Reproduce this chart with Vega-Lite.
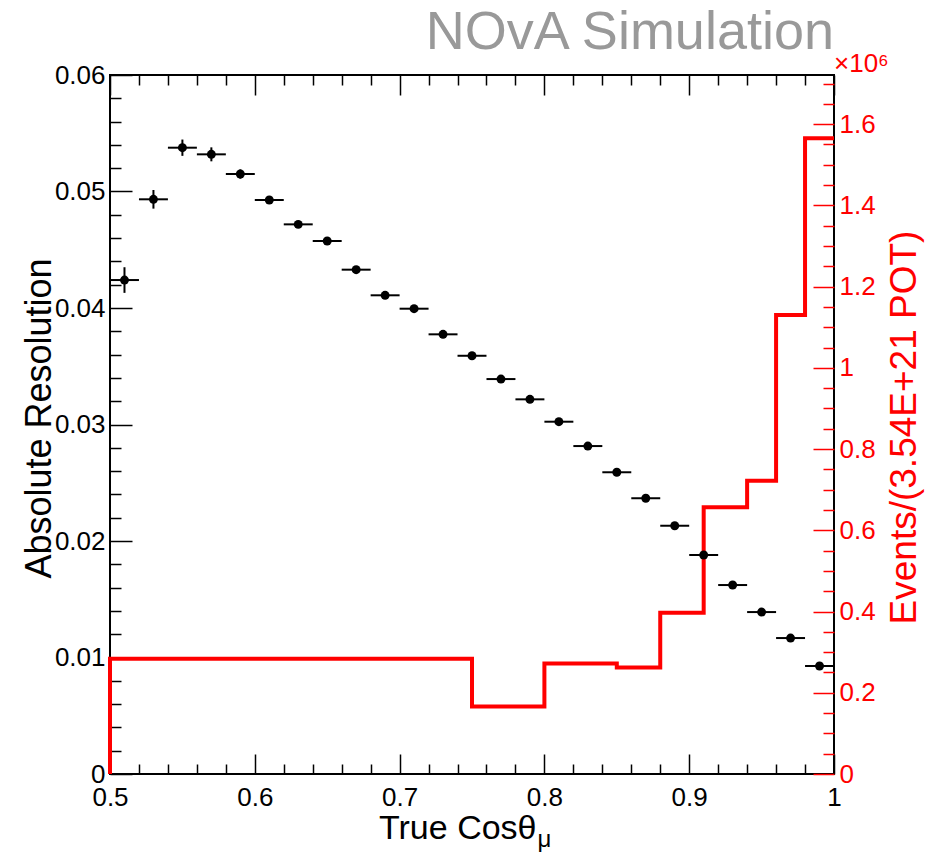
{
  "$schema": "https://vega.github.io/schema/vega-lite/v6.json",
  "width": 724,
  "height": 699,
  "autosize": "none",
  "padding": {"left": 110, "top": 75, "right": 98, "bottom": 82},
  "background": "white",
  "config": {
    "view": {"stroke": "black", "strokeWidth": 2},
    "font": "Liberation Sans",
    "axis": {"labelFont": "Liberation Sans", "titleFont": "Liberation Sans", "titleFontWeight": "normal", "grid": false, "domain": false, "zindex": 1, "labelFlush": false, "labelOverlap": false, "labelBound": false}
  },
  "title": {"text": "NOvA Simulation", "anchor": "end", "fontSize": 54, "color": "#999999", "font": "Liberation Sans", "fontWeight": "normal", "frame": "group", "dy": 13},
  "datasets": {
    "hist": [
      {"i": 0, "x": 0.5, "ev": 0},
      {"i": 1, "x": 0.5, "ev": 284000},
      {"i": 2, "x": 0.75, "ev": 166000},
      {"i": 3, "x": 0.8, "ev": 272000},
      {"i": 4, "x": 0.85, "ev": 262000},
      {"i": 5, "x": 0.88, "ev": 397000},
      {"i": 6, "x": 0.91, "ev": 657000},
      {"i": 7, "x": 0.94, "ev": 722000},
      {"i": 8, "x": 0.96, "ev": 1130000},
      {"i": 9, "x": 0.98, "ev": 1565000},
      {"i": 10, "x": 1.0, "ev": 1565000}
    ],
    "res": [
      {"x": 0.51, "lo": 0.50, "hi": 0.52, "res": 0.0424, "ylo": 0.0413, "yhi": 0.0435},
      {"x": 0.53, "lo": 0.52, "hi": 0.54, "res": 0.04933, "ylo": 0.04853, "yhi": 0.05013},
      {"x": 0.55, "lo": 0.54, "hi": 0.56, "res": 0.05376, "ylo": 0.05306, "yhi": 0.05446},
      {"x": 0.57, "lo": 0.56, "hi": 0.58, "res": 0.05319, "ylo": 0.05259, "yhi": 0.05379},
      {"x": 0.59, "lo": 0.58, "hi": 0.60, "res": 0.0515, "ylo": 0.0511, "yhi": 0.0519},
      {"x": 0.61, "lo": 0.60, "hi": 0.62, "res": 0.04927, "ylo": 0.04897, "yhi": 0.04957},
      {"x": 0.63, "lo": 0.62, "hi": 0.64, "res": 0.04718, "ylo": 0.04688, "yhi": 0.04748},
      {"x": 0.65, "lo": 0.64, "hi": 0.66, "res": 0.04575, "ylo": 0.04545, "yhi": 0.04605},
      {"x": 0.67, "lo": 0.66, "hi": 0.68, "res": 0.04329, "ylo": 0.04299, "yhi": 0.04359},
      {"x": 0.69, "lo": 0.68, "hi": 0.70, "res": 0.04109, "ylo": 0.04079, "yhi": 0.04139},
      {"x": 0.71, "lo": 0.70, "hi": 0.72, "res": 0.03994, "ylo": 0.03964, "yhi": 0.04024},
      {"x": 0.73, "lo": 0.72, "hi": 0.74, "res": 0.03774, "ylo": 0.03754, "yhi": 0.03794},
      {"x": 0.75, "lo": 0.74, "hi": 0.76, "res": 0.0359, "ylo": 0.0357, "yhi": 0.0361},
      {"x": 0.77, "lo": 0.76, "hi": 0.78, "res": 0.0339, "ylo": 0.0337, "yhi": 0.0341},
      {"x": 0.79, "lo": 0.78, "hi": 0.80, "res": 0.03216, "ylo": 0.03196, "yhi": 0.03236},
      {"x": 0.81, "lo": 0.80, "hi": 0.82, "res": 0.03024, "ylo": 0.03004, "yhi": 0.03044},
      {"x": 0.83, "lo": 0.82, "hi": 0.84, "res": 0.02815, "ylo": 0.02795, "yhi": 0.02835},
      {"x": 0.85, "lo": 0.84, "hi": 0.86, "res": 0.0259, "ylo": 0.0257, "yhi": 0.0261},
      {"x": 0.87, "lo": 0.86, "hi": 0.88, "res": 0.02367, "ylo": 0.02347, "yhi": 0.02387},
      {"x": 0.89, "lo": 0.88, "hi": 0.90, "res": 0.02131, "ylo": 0.02111, "yhi": 0.02151},
      {"x": 0.91, "lo": 0.90, "hi": 0.92, "res": 0.0188, "ylo": 0.0186, "yhi": 0.019},
      {"x": 0.93, "lo": 0.92, "hi": 0.94, "res": 0.01622, "ylo": 0.01602, "yhi": 0.01642},
      {"x": 0.95, "lo": 0.94, "hi": 0.96, "res": 0.0139, "ylo": 0.0137, "yhi": 0.0141},
      {"x": 0.97, "lo": 0.96, "hi": 0.98, "res": 0.01167, "ylo": 0.01147, "yhi": 0.01187},
      {"x": 0.99, "lo": 0.98, "hi": 1.00, "res": 0.00927, "ylo": 0.00907, "yhi": 0.00947}
    ],
    "note": [{"x": 1.0, "ev": 1721000, "t": "×10⁶"}]
  },
  "layer": [
    {
      "layer": [
        {
          "data": {"name": "hist"},
          "mark": {"type": "line", "interpolate": "step-after", "color": "#ff0000", "strokeWidth": 4},
          "encoding": {
            "x": {"field": "x", "type": "quantitative", "scale": {"domain": [0.5, 1.0], "nice": false, "zero": false},
              "axis": {"orient": "top", "labels": false, "tickColor": "black", "tickWidth": 1.5, "tickCount": 200,
                "values": [0.5,0.52,0.54,0.56,0.58,0.6,0.62,0.64,0.66,0.68,0.7,0.72,0.74,0.76,0.78,0.8,0.82,0.84,0.86,0.88,0.9,0.92,0.94,0.96,0.98,1.0],
                "tickSize": {"condition": {"test": "abs(datum.value*10 - round(datum.value*10)) < 0.001", "value": -20}, "value": -10},
                "title": "μ", "titleFontSize": 24, "titleAlign": "left", "titleBaseline": "alphabetic", "titleX": 427, "titleY": 771, "titleColor": "black"}},
            "y": {"field": "ev", "type": "quantitative", "scale": {"domain": [0, 1721000], "nice": false, "zero": true},
              "axis": {"orient": "right", "tickColor": "#ff0000", "tickWidth": 1.5, "labelColor": "#ff0000", "labelFontSize": 26, "labelPadding": 26, "labelOverlap": false, "labelBound": false, "tickCount": 200,
                "values": [0,50000,100000,150000,200000,250000,300000,350000,400000,450000,500000,550000,600000,650000,700000,750000,800000,850000,900000,950000,1000000,1050000,1100000,1150000,1200000,1250000,1300000,1350000,1400000,1450000,1500000,1550000,1600000,1650000,1700000],
                "tickSize": {"condition": {"test": "datum.value % 200000 == 0", "value": -21}, "value": -11},
                "labelExpr": "datum.value % 200000 == 0 ? format(datum.value/1000000, '~g') : ''",
                "title": "Events/(3.54E+21 POT)", "titleColor": "#ff0000", "titleFontSize": 37, "titleAngle": 270, "titleAlign": "center", "titleBaseline": "alphabetic", "titleX": 81, "titleY": 352}},
            "order": {"field": "i", "type": "quantitative"}
          }
        },
        {
          "data": {"name": "note"},
          "mark": {"type": "text", "align": "left", "baseline": "alphabetic", "dy": -3, "dx": 0, "fontSize": 26, "color": "#ff0000", "font": "Liberation Sans"},
          "encoding": {
            "x": {"field": "x", "type": "quantitative"},
            "y": {"field": "ev", "type": "quantitative"},
            "text": {"field": "t"}
          }
        }
      ]
    },
    {
      "data": {"name": "res"},
      "layer": [
        {
          "mark": {"type": "rule", "color": "black", "strokeWidth": 2},
          "encoding": {
            "x": {"field": "lo", "type": "quantitative"},
            "x2": {"field": "hi"},
            "y": {"field": "res", "type": "quantitative"}
          }
        },
        {
          "mark": {"type": "rule", "color": "black", "strokeWidth": 2},
          "encoding": {
            "x": {"field": "x", "type": "quantitative"},
            "y": {"field": "ylo", "type": "quantitative"},
            "y2": {"field": "yhi"}
          }
        },
        {
          "mark": {"type": "circle", "color": "black", "opacity": 1, "size": 80},
          "encoding": {
            "x": {"field": "x", "type": "quantitative", "scale": {"domain": [0.5, 1.0], "nice": false, "zero": false},
              "axis": {"orient": "bottom", "tickColor": "black", "tickWidth": 1.5, "labelColor": "black", "labelFontSize": 26, "labelPadding": 30, "labelOverlap": false, "labelBound": false, "labelFlush": false, "tickCount": 200,
                "values": [0.5,0.52,0.54,0.56,0.58,0.6,0.62,0.64,0.66,0.68,0.7,0.72,0.74,0.76,0.78,0.8,0.82,0.84,0.86,0.88,0.9,0.92,0.94,0.96,0.98,1.0],
                "tickSize": {"condition": {"test": "abs(datum.value*10 - round(datum.value*10)) < 0.001", "value": -20}, "value": -10},
                "labelExpr": "abs(datum.value*10 - round(datum.value*10)) < 0.001 ? format(datum.value, '~g') : ''",
                "title": "True Cosθ", "titleFontSize": 34, "titleColor": "black", "titleAlign": "right", "titleBaseline": "alphabetic", "titleX": 426, "titleY": 64}},
            "y": {"field": "res", "type": "quantitative", "scale": {"domain": [0, 0.06], "nice": false, "zero": true},
              "axis": {"orient": "left", "tickColor": "black", "tickWidth": 1.5, "labelColor": "black", "labelFontSize": 26, "labelPadding": 27, "labelOverlap": false, "labelBound": false, "tickCount": 200,
                "values": [0,0.002,0.004,0.006,0.008,0.01,0.012,0.014,0.016,0.018,0.02,0.022,0.024,0.026,0.028,0.03,0.032,0.034,0.036,0.038,0.04,0.042,0.044,0.046,0.048,0.05,0.052,0.054,0.056,0.058,0.06],
                "tickSize": {"condition": {"test": "abs(datum.value*100 - round(datum.value*100)) < 0.0001", "value": -22}, "value": -11},
                "labelExpr": "abs(datum.value*100 - round(datum.value*100)) < 0.0001 ? format(datum.value, '~g') : ''",
                "title": "Absolute Resolution", "titleColor": "black", "titleFontSize": 36, "titleAngle": 270, "titleAlign": "center", "titleBaseline": "alphabetic", "titleX": -60, "titleY": 343}}
          }
        }
      ]
    }
  ],
  "resolve": {"scale": {"y": "independent"}, "axis": {"x": "independent", "y": "independent"}}
}
